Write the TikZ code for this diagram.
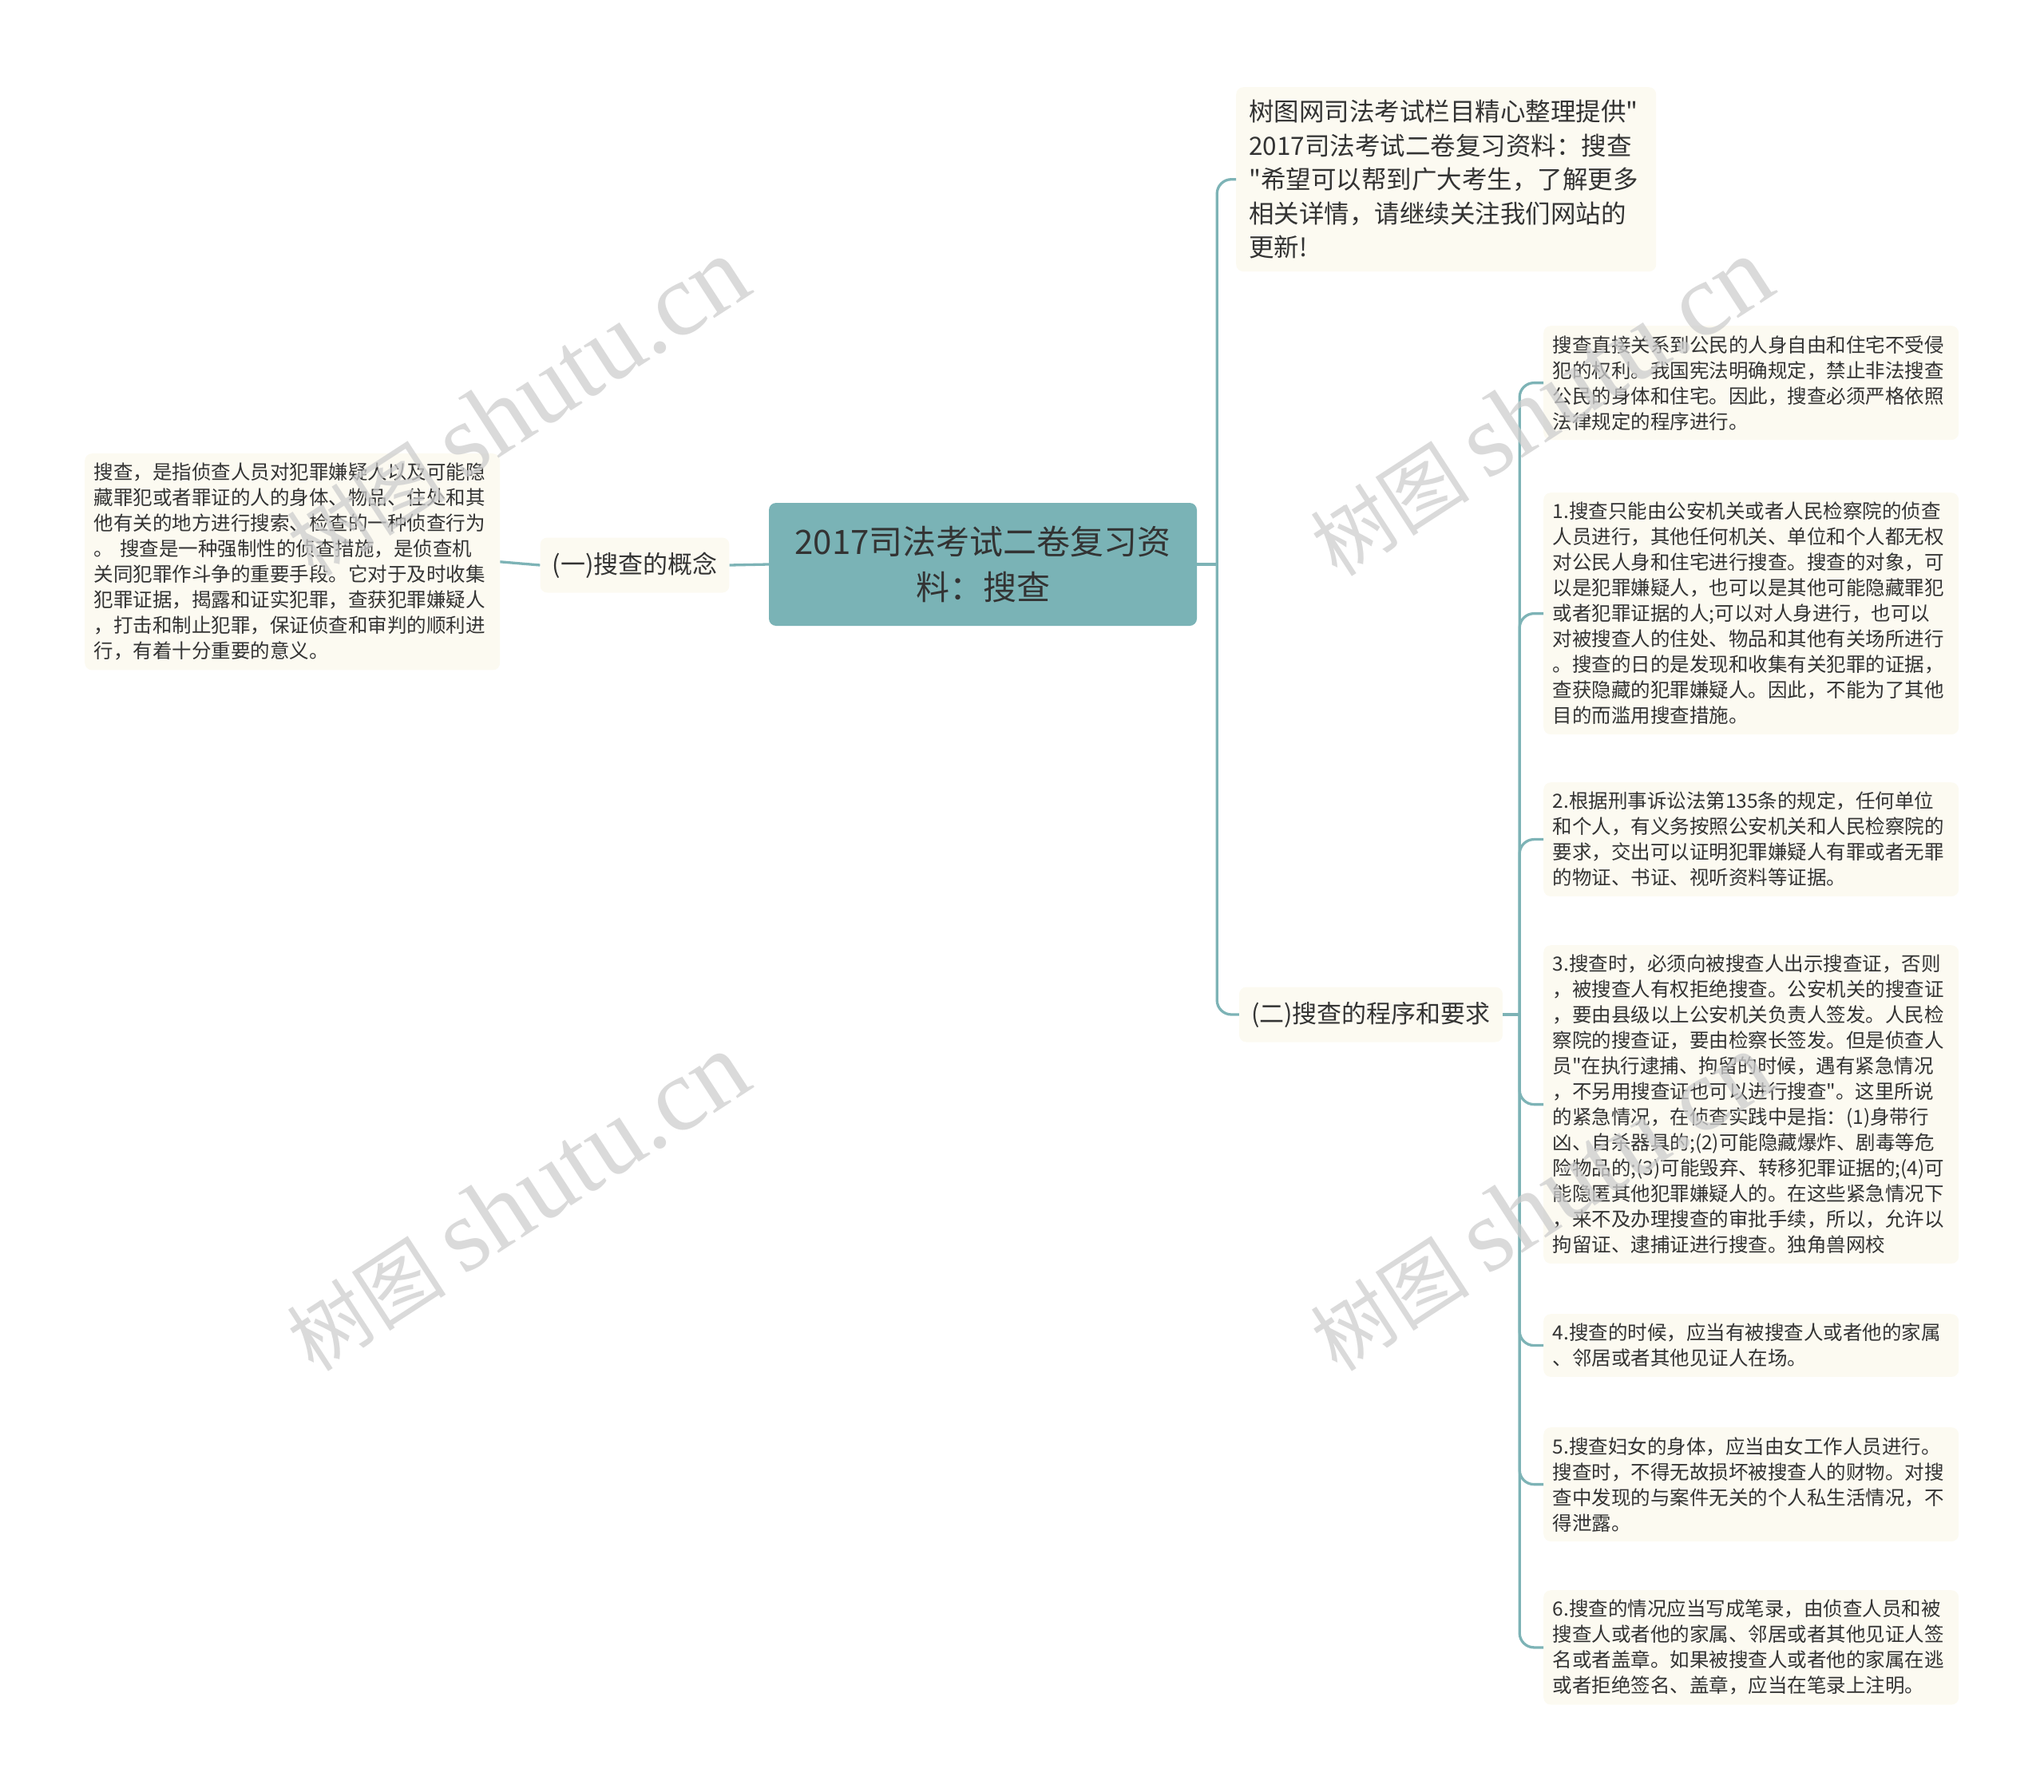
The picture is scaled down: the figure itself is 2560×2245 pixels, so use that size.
\documentclass[tikz,border=0pt]{standalone}
\usepackage{fontspec}
\newfontfamily\cjkfont{Noto Sans CJK SC}
\newfontfamily\wmlatin{Liberation Serif}
\usetikzlibrary{positioning}

\definecolor{rootteal}{HTML}{7AB3B6}
\definecolor{linkteal}{HTML}{7DB3B6}
\definecolor{leafcream}{HTML}{FCFAF1}
\definecolor{inkgray}{HTML}{333333}
\definecolor{wmgray}{HTML}{CDCDCD}

\tikzset{
  rootbox/.style={rectangle, rounded corners=9pt, fill=rootteal, text=inkgray,
    minimum width=536pt, minimum height=154pt, align=center,
    font={\cjkfont\fontsize{42}{57}\selectfont}},
  branchbox/.style={rectangle, rounded corners=9pt, fill=leafcream, text=inkgray,
    minimum height=69pt, inner xsep=15pt, font={\cjkfont\fontsize{31}{40}\selectfont}},
  leafbox/.style={rectangle, rounded corners=9pt, fill=leafcream, text=inkgray,
    anchor=north west, align=left, text width=497pt, inner xsep=11.5pt, inner ysep=12pt,
    font={\cjkfont\fontsize{24.5}{32}\selectfont}},
  notebox/.style={leafbox, text width=494pt, inner xsep=16pt, inner ysep=16pt,
    font={\cjkfont\fontsize{31.5}{42.5}\selectfont}},
  link/.style={draw=linkteal, line width=3.3pt, rounded corners=18pt},
  wmark/.style={text=wmgray, text opacity=0.75, rotate=33, font={\cjkfont\fontsize{100}{100}\selectfont}}
}
\newcommand{\wmtext}{树图 {\wmlatin\fontsize{130}{130}\selectfont shutu.cn}}

\begin{document}
\begin{tikzpicture}[x=1pt,y=-1pt]
  \useasboundingbox (0,0) rectangle (2560,2245);

  % centre and the two branches
  \node[rootbox] (root) at (1231,707) {2017司法考试二卷复习资\\料：搜查};
  \node[branchbox] (one) at (795,708) {(一)搜查的概念};
  \node[branchbox] (two) at (1717,1271) {(二)搜查的程序和要求};

  % left leaf
  \node[leafbox] (def) at (106,568) {搜查，是指侦查人员对犯罪嫌疑人以及可能隐\\藏罪犯或者罪证的人的身体、物品、住处和其\\他有关的地方进行搜索、检查的一种侦查行为\\。 搜查是一种强制性的侦查措施，是侦查机\\关同犯罪作斗争的重要手段。它对于及时收集\\犯罪证据，揭露和证实犯罪，查获犯罪嫌疑人\\，打击和制止犯罪，保证侦查和审判的顺利进\\行，有着十分重要的意义。};

  % right side
  \node[notebox] (note) at (1548,109) {树图网司法考试栏目精心整理提供"\\2017司法考试二卷复习资料：搜查\\"希望可以帮到广大考生，了解更多\\相关详情，请继续关注我们网站的\\更新!};

  \node[leafbox] (la) at (1933,408) {搜查直接关系到公民的人身自由和住宅不受侵\\犯的权利。我国宪法明确规定，禁止非法搜查\\公民的身体和住宅。因此，搜查必须严格依照\\法律规定的程序进行。};
  \node[leafbox] (l1) at (1933,617) {1.搜查只能由公安机关或者人民检察院的侦查\\人员进行，其他任何机关、单位和个人都无权\\对公民人身和住宅进行搜查。搜查的对象，可\\以是犯罪嫌疑人，也可以是其他可能隐藏罪犯\\或者犯罪证据的人;可以对人身进行，也可以\\对被搜查人的住处、物品和其他有关场所进行\\。搜查的日的是发现和收集有关犯罪的证据，\\查获隐藏的犯罪嫌疑人。因此，不能为了其他\\目的而滥用搜查措施。};
  \node[leafbox] (l2) at (1933,980) {2.根据刑事诉讼法第135条的规定，任何单位\\和个人，有义务按照公安机关和人民检察院的\\要求，交出可以证明犯罪嫌疑人有罪或者无罪\\的物证、书证、视听资料等证据。};
  \node[leafbox] (l3) at (1933,1184) {3.搜查时，必须向被搜查人出示搜查证，否则\\，被搜查人有权拒绝搜查。公安机关的搜查证\\，要由县级以上公安机关负责人签发。人民检\\察院的搜查证，要由检察长签发。但是侦查人\\员"在执行逮捕、拘留的时候，遇有紧急情况\\，不另用搜查证也可以进行搜查"。这里所说\\的紧急情况，在侦查实践中是指：(1)身带行\\凶、自杀器具的;(2)可能隐藏爆炸、剧毒等危\\险物品的;(3)可能毁弃、转移犯罪证据的;(4)可\\能隐匿其他犯罪嫌疑人的。在这些紧急情况下\\，来不及办理搜查的审批手续，所以，允许以\\拘留证、逮捕证进行搜查。独角兽网校};
  \node[leafbox] (l4) at (1933,1646) {4.搜查的时候，应当有被搜查人或者他的家属\\、邻居或者其他见证人在场。};
  \node[leafbox] (l5) at (1933,1788) {5.搜查妇女的身体，应当由女工作人员进行。\\搜查时，不得无故损坏被搜查人的财物。对搜\\查中发现的与案件无关的个人私生活情况，不\\得泄露。};
  \node[leafbox] (l6) at (1933,1992) {6.搜查的情况应当写成笔录，由侦查人员和被\\搜查人或者他的家属、邻居或者其他见证人签\\名或者盖章。如果被搜查人或者他的家属在逃\\或者拒绝签名、盖章，应当在笔录上注明。};

  % connectors
  \draw[link] (root.west) -- (one.east);
  \draw[link] (one.west) -- (def.east);

  \coordinate (rjoin) at ([xshift=25pt]root.east);
  \draw[link] (root.east) -- (rjoin);
  \draw[link] (rjoin) |- (note.west);
  \draw[link] (rjoin) |- (two.west);

  \coordinate (sjoin) at ([xshift=21pt]two.east);
  \draw[link] (two.east) -- (sjoin);
  \foreach \leaf in {la,l1,l2,l3,l4,l5,l6}
    \draw[link] (sjoin) |- (\leaf.west);

  % watermarks
  \node[wmark] (wm1) at (648,510) {\wmtext};
  \node[wmark] (wm2) at (648,1506) {\wmtext};
  \node[wmark] (wm3) at (1930,510) {\wmtext};
  \node[wmark] (wm4) at (1930,1506) {\wmtext};
\end{tikzpicture}
\end{document}
